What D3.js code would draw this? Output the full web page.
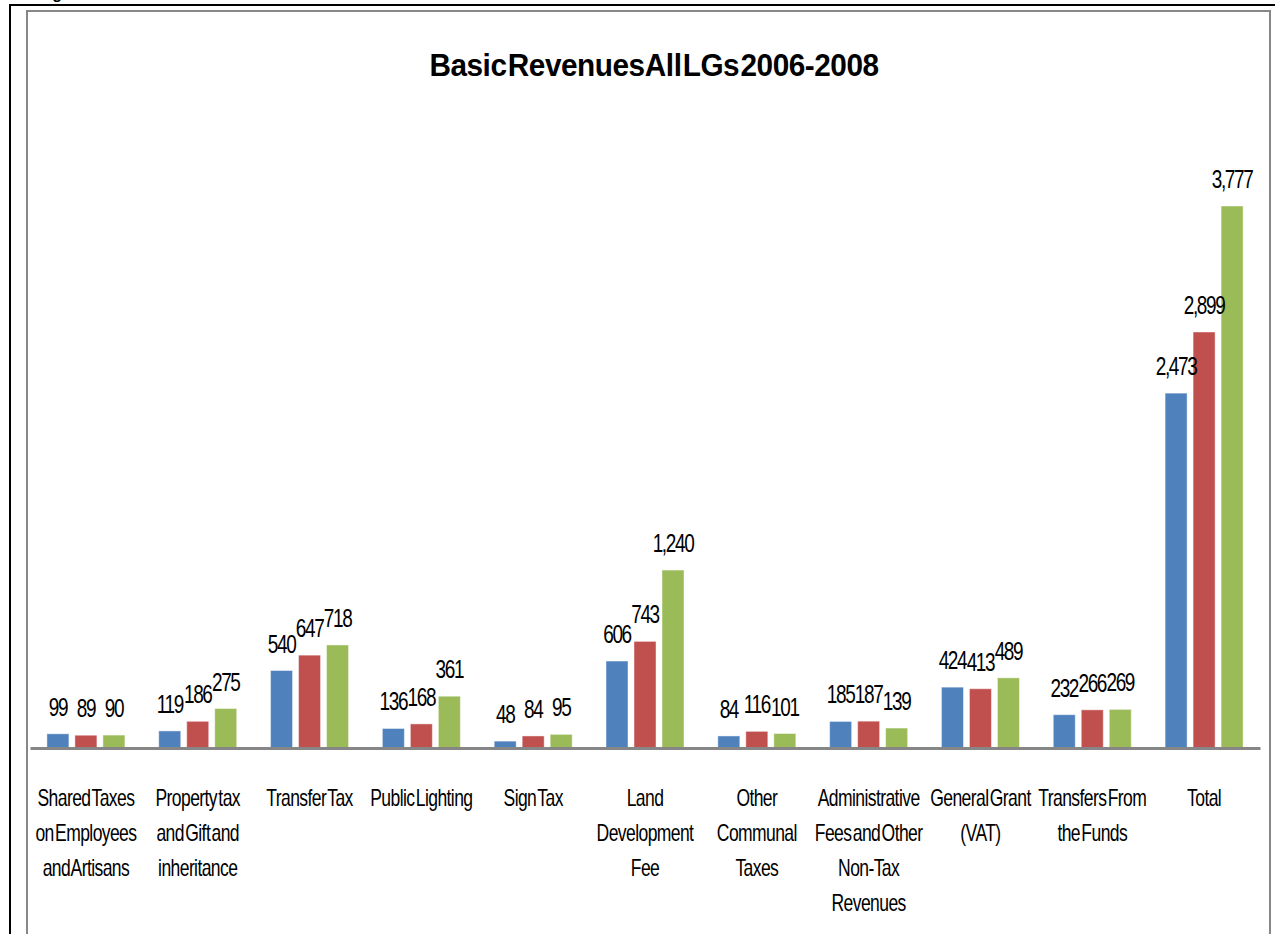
<!DOCTYPE html>
<html>
<head>
<meta charset="utf-8">
<script src="https://cdn.jsdelivr.net/npm/d3@7/dist/d3.min.js"></script>
<style>
  html, body { margin: 0; padding: 0; background: #ffffff; }
  svg { display: block; }
  text { font-family: "Liberation Sans", Arial, sans-serif; fill: #000; }
</style>
</head>
<body>
<svg id="chart" width="1275" height="934"></svg>
<script>
// ---- data ----
const title = "Basic Revenues All LGs 2006-2008";
const categories = [
  "Shared Taxes\non Employees\nand Artisans",
  "Property tax\nand Gift and\ninheritance",
  "Transfer Tax",
  "Public Lighting",
  "Sign Tax",
  "Land\nDevelopment\nFee",
  "Other\nCommunal\nTaxes",
  "Administrative\nFees and Other\nNon-Tax\nRevenues",
  "General Grant\n(VAT)",
  "Transfers From\nthe Funds",
  "Total"
];
const seriesNames = ["2006", "2007", "2008"];
const values2006 = [99, 119, 540, 136, 48, 606, 84, 185, 424, 232, 2473];
const values2007 = [89, 186, 647, 168, 84, 743, 116, 187, 413, 266, 2899];
const values2008 = [90, 275, 718, 361, 95, 1240, 101, 139, 489, 269, 3777];
const seriesValues = [values2006, values2007, values2008];
const seriesColors = ["#4F81BD", "#C0504D", "#9BBB59"];
const yMax = 4000;

// ---- drawing ----
const svg = d3.select("#chart");

// outer page frame lines
svg.append("text").attr("x", 38).attr("y", -1)
  .style("font-weight", "bold").style("font-size", "16px").text("Fig");
svg.append("line").attr("x1", 10).attr("x2", 1275).attr("y1", 5).attr("y2", 5)
  .attr("stroke", "#000").attr("stroke-width", 2);
svg.append("line").attr("x1", 10).attr("x2", 10).attr("y1", 4).attr("y2", 934)
  .attr("stroke", "#000").attr("stroke-width", 2);

// chart area box
svg.append("rect").attr("x", 27).attr("y", 11).attr("width", 1243).attr("height", 940)
  .attr("fill", "#fff").attr("stroke", "#878787").attr("stroke-width", 2);

// title (condensed)
svg.append("text")
  .attr("transform", "translate(654,76) scale(0.93,1)")
  .attr("text-anchor", "middle")
  .style("font-weight", "bold").style("font-size", "32px")
  .style("letter-spacing", "-0.5px").style("word-spacing", "-7px")
  .text(title);

const plotLeft = 30, plotRight = 1260, baseY = 748, topY = 174;

const x0 = d3.scaleBand().domain(d3.range(categories.length)).range([plotLeft, plotRight]).padding(0);
const groupW = 78;
const x1 = d3.scaleBand().domain(d3.range(seriesNames.length))
  .range([(x0.bandwidth() - groupW) / 2, (x0.bandwidth() + groupW) / 2])
  .paddingInner(0.214).paddingOuter(0);
const y = d3.scaleLinear().domain([0, yMax]).range([baseY, topY]);

const groups = svg.append("g").selectAll("g")
  .data(categories.map((c, i) => i))
  .join("g")
  .attr("transform", i => `translate(${x0(i)},0)`);

const barData = i => seriesValues.map((vals, s) => ({ s, v: vals[i] }));

groups.selectAll("rect")
  .data(i => barData(i))
  .join("rect")
  .attr("x", d => x1(d.s))
  .attr("y", d => y(d.v))
  .attr("width", x1.bandwidth())
  .attr("height", d => baseY - y(d.v))
  .attr("fill", d => seriesColors[d.s])
  .attr("stroke", "rgba(255,255,255,0.45)")
  .attr("stroke-width", 1);

const fmt = d3.format(",");
groups.selectAll("text.val")
  .data(i => barData(i))
  .join("text")
  .attr("class", "val")
  .attr("transform", d => `translate(${x1(d.s) + x1.bandwidth() / 2},${y(d.v) - 18}) scale(0.76,1)`)
  .attr("text-anchor", "middle")
  .style("font-size", "25px")
  .style("letter-spacing", "-1.8px")
  .text(d => fmt(d.v));

// x axis line
const xAxis = d3.axisBottom(x0).tickSize(0).tickFormat("");
const axG = svg.append("g").attr("transform", `translate(0,${baseY})`).call(xAxis);
axG.select(".domain").attr("stroke", "#868686").attr("stroke-width", 3);

// category labels (condensed)
svg.append("g").selectAll("text")
  .data(categories)
  .join("text")
  .attr("transform", (c, i) => `translate(${x0(i) + x0.bandwidth() / 2},806) scale(0.73,1)`)
  .attr("text-anchor", "middle")
  .style("font-size", "24px")
  .style("letter-spacing", "-0.8px")
  .style("word-spacing", "-4px")
  .each(function (c) {
    const t = d3.select(this);
    c.split("\n").forEach((line, k) => {
      t.append("tspan").attr("x", 0).attr("dy", k === 0 ? 0 : 35).text(line);
    });
  });
</script>
</body>
</html>
